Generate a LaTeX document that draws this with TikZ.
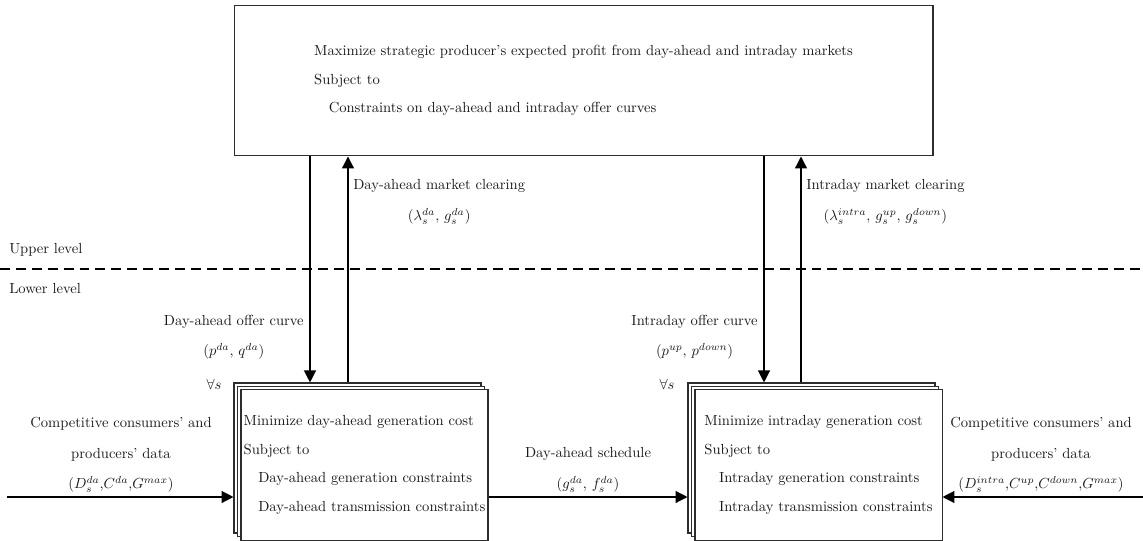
\documentclass[tikz,border=0pt]{standalone}
\usepackage{amsmath, amsfonts}
\usepackage{tikz}
\usetikzlibrary{arrows.meta}

\newcommand{\stk}[4]{%
  \foreach \d in {7,3.5}
    \draw[prob] (#2-123.5-\d, #3-75-\d) rectangle (#2+123.5-\d, #3+75-\d);
  \node[prob, stackbox] (#1) at (#2, #3) {#4};
}

\begin{document}
\begin{tikzpicture}[x=0.685pt, y=-0.685pt, font=\normalsize]

\definecolor{boxline}{RGB}{45,45,45}
\definecolor{blocktext}{RGB}{25,25,25}

\tikzset{
  wire/.style={line width=0.85pt, draw=black},
  ar/.style={-{Triangle[length=8.2pt, width=8.2pt]}, line width=0.85pt, draw=black},
  lab/.style={text=blocktext, align=center, inner sep=0pt},
  prob/.style={draw=boxline, line width=0.7pt, fill=white, text=blocktext},
  stackbox/.style={minimum width=169.2pt, minimum height=102.8pt, align=left, inner sep=0pt},
}

\useasboundingbox (0,0) rectangle (1143,541);

\node[prob, minimum width=478.8pt, minimum height=103.4pt, align=left, inner sep=0pt] (upper) at (583.5, 80.5)
  {Maximize strategic producer's expected profit from day-ahead and intraday markets\\[7.5pt]
   Subject to\\[7.5pt]
   \hspace*{1em}Constraints on day-ahead and intraday offer curves};

\stk{da}{364.5}{465}{Minimize day-ahead generation cost\\[7.5pt]
  Subject to\\[7.5pt]
  \hspace*{1em}Day-ahead generation constraints\\[7.5pt]
  \hspace*{1em}Day-ahead transmission constraints}
\stk{id}{818.5}{465}{Minimize intraday generation cost\\[7.5pt]
  Subject to\\[7.5pt]
  \hspace*{1em}Intraday generation constraints\\[7.5pt]
  \hspace*{1em}Intraday transmission constraints}

% level separator
\coordinate (sepl) at (0, 269);
\coordinate (sepr) at (1143, 269);
\draw[line width=0.7pt, dash pattern=on 6.8pt off 4.1pt] (sepl) -- (sepr);
\node[lab, anchor=west] (uplev) at (9, 250) {Upper level};
\node[lab, anchor=west] (lowlev) at (9, 289) {Lower level};

\coordinate (dadown) at (310, 0);
\coordinate (daup) at (348, 0);
\coordinate (iddown) at (764, 0);
\coordinate (idup) at (801, 0);
\coordinate (datop) at ([yshift=4.8pt]da.north);
\coordinate (idtop) at ([yshift=4.8pt]id.north);
\coordinate (idleft) at ([xshift=-4.8pt]id.west);
\coordinate (daleft) at ([xshift=-4.8pt]da.west);
\coordinate (flow) at (0, 497);
\coordinate (dasrc) at (7, 497);
\coordinate (idsrc) at (1143, 497);

\draw[ar] (upper.south -| dadown) -- (datop -| dadown);
\draw[ar] (datop -| daup) -- (upper.south -| daup);
\draw[ar] (upper.south -| iddown) -- (idtop -| iddown);
\draw[ar] (idtop -| idup) -- (upper.south -| idup);

\draw[ar] (dasrc) -- (daleft |- flow);
\draw[ar] (da.east |- flow) -- (idleft |- flow);
\draw[ar] (idsrc) -- (id.east |- flow);

\node[lab, anchor=west] (daclr) at (353, 202) {Day-ahead market clearing\\[8.9pt] $(\lambda_s^{da},\, g_s^{da})$};
\node[lab, anchor=west] (idclr) at (806, 202) {Intraday market clearing\\[8.9pt] $(\lambda_s^{intra},\, g_s^{up},\, g_s^{down})$};
\node[lab, anchor=east] (daoffer) at (304, 337) {Day-ahead offer curve\\[8.9pt] $(p^{da},\, q^{da})$};
\node[lab, anchor=east] (idoffer) at (758, 337) {Intraday offer curve\\[8.9pt] $(p^{up},\, p^{down})$};
\node[lab] (dall) at (214, 384) {$\forall s$};
\node[lab] (idall) at (667, 384) {$\forall s$};

\node[lab] (dadata) at (121, 455) {Competitive consumers' and\\[8.9pt] producers' data\\[8.9pt] $(D_s^{da}{,}C^{da}{,}G^{max})$};
\node[lab] (sched) at (588, 470) {Day-ahead schedule\\[8.9pt] $(g_s^{da},\, f_s^{da})$};
\node[lab] (iddata) at (1041, 455) {Competitive consumers' and\\[8.9pt] producers' data\\[8.9pt] $(D_s^{intra}{,}C^{up}{,}C^{down}{,}G^{max})$};

\end{tikzpicture}
\end{document}
